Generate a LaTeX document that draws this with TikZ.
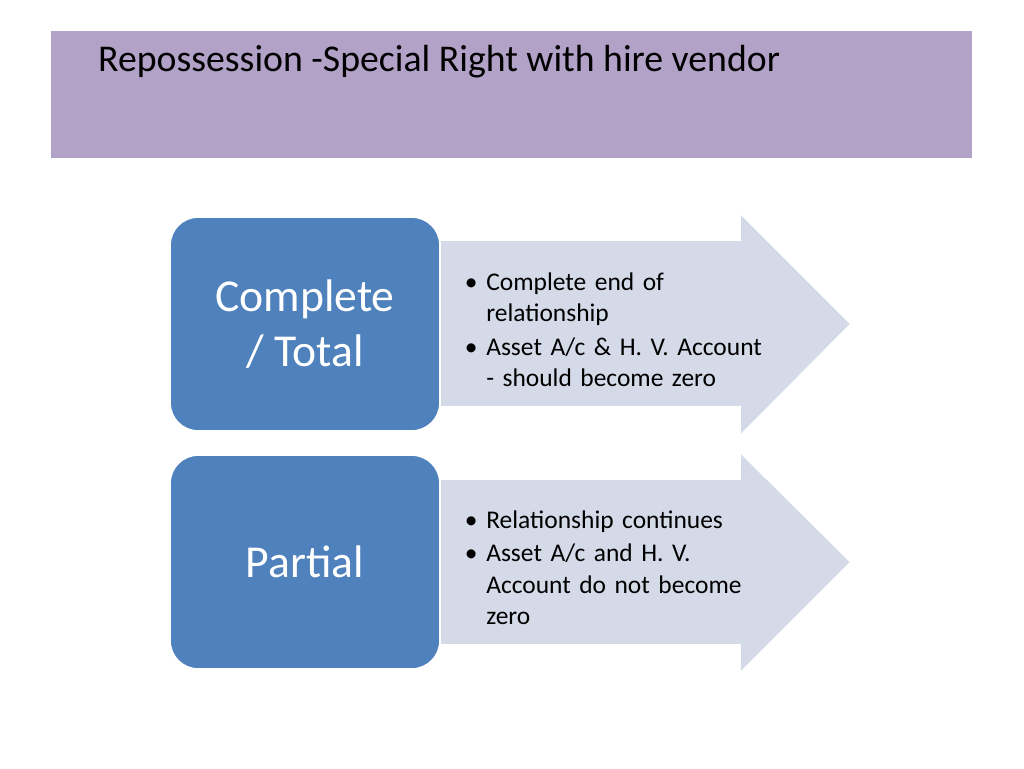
\documentclass[tikz,border=0pt]{standalone}
\usepackage{fontspec}
\setmainfont{Carlito}
\usetikzlibrary{positioning}
\definecolor{titlebg}{HTML}{B3A2C7}
\definecolor{boxblue}{HTML}{4F81BD}
\definecolor{arrowbg}{HTML}{D5DAE8}
\begin{document}
\begin{tikzpicture}[x=0.02cm,y=-0.02cm,
        kindbox/.style={rectangle, rounded corners=16pt, fill=boxblue, draw=white, line width=1pt,
            minimum width=270*0.02cm, minimum height=214*0.02cm, text=white, align=center,
            font=\fontsize{26}{31}\selectfont},
        pointlist/.style={text width=190pt, align=left, font=\fontsize{14.5}{18}\selectfont, inner sep=0pt},
        bigarrow/.style={fill=arrowbg, draw=white, line width=1pt}
    ]
        \useasboundingbox (0,0) rectangle (1024,768);
        \fill[white] (0,0) rectangle (1024,768);
        \fill[titlebg] (51,31) rectangle (972,158);
        \node[anchor=west, font=\fontsize{21.5}{26}\selectfont] (title) at (92,62) {Repossession -Special Right with hire vendor};

        % first row
        \draw[bigarrow] (420,240) -- (740,240) -- (740,213) -- (851,324) -- (740,436) -- (740,407) -- (420,407) -- cycle;
        \node[kindbox] (total) at (305,324) {Complete\\/ Total};
        \node[pointlist, anchor=north west] (totalpts) at (442,244) {%
            \begin{itemize}\setlength{\itemsep}{1pt}\setlength{\parskip}{0pt}\setlength{\leftmargin}{16pt}
            \item Complete end of relationship
            \item Asset A/c \& H. V. Account - should become zero
            \end{itemize}};

        % second row
        \draw[bigarrow] (420,479) -- (740,479) -- (740,452) -- (851,562) -- (740,673) -- (740,645) -- (420,645) -- cycle;
        \node[kindbox] (partial) at (305,562) {Partial};
        \node[pointlist, anchor=north west] (partialpts) at (442,482) {%
            \begin{itemize}\setlength{\itemsep}{1pt}\setlength{\parskip}{0pt}
            \item Relationship continues
            \item Asset A/c and H. V. Account do not become zero
            \end{itemize}};
    \end{tikzpicture}
\end{document}
